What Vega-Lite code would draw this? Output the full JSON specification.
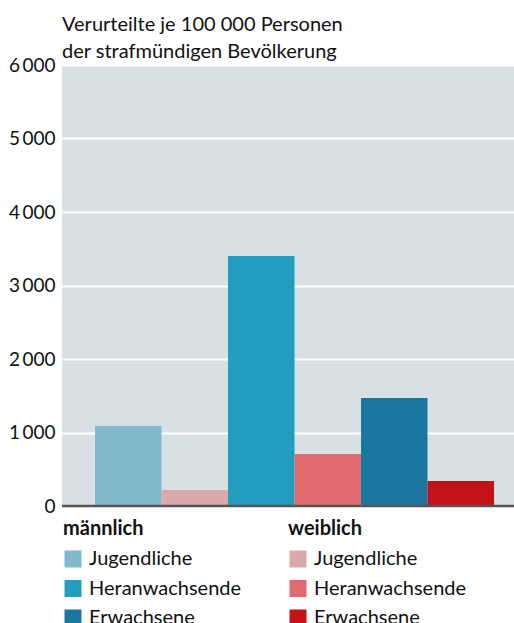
{
  "$schema": "https://vega.github.io/schema/vega-lite/v6.json",
  "width": 452,
  "height": 441,
  "autosize": {"type": "none"},
  "padding": {"left": 62, "top": 65, "right": 0, "bottom": 117},
  "background": "white",
  "config": {
    "view": {"fill": "#d8e0e3", "stroke": null},
    "font": "Lato",
    "legend": {"titleFont": "Lato", "labelFont": "Lato"}
  },
  "title": {
    "text": ["Verurteilte je 100 000 Personen", "der strafmündigen Bevölkerung"],
    "anchor": "start",
    "frame": "group",
    "fontSize": 20,
    "fontWeight": "normal",
    "lineHeight": 27,
    "offset": -6,
    "color": "#111111"
  },
  "data": {
    "values": [
      {"id": "m_J", "sex": "männlich", "group": "Jugendliche", "value": 1088},
      {"id": "w_J", "sex": "weiblich", "group": "Jugendliche", "value": 218},
      {"id": "m_H", "sex": "männlich", "group": "Heranwachsende", "value": 3400},
      {"id": "w_H", "sex": "weiblich", "group": "Heranwachsende", "value": 708},
      {"id": "m_E", "sex": "männlich", "group": "Erwachsene", "value": 1468},
      {"id": "w_E", "sex": "weiblich", "group": "Erwachsene", "value": 340}
    ]
  },
  "encoding": {
    "x": {
      "field": "id",
      "type": "nominal",
      "sort": ["m_J", "w_J", "m_H", "w_H", "m_E", "w_E"],
      "axis": null,
      "scale": {"paddingInner": 0, "paddingOuter": 0.3985, "align": 0.623}
    },
    "y": {
      "field": "value",
      "type": "quantitative",
      "scale": {"domain": [0, 6000], "nice": false},
      "axis": {
        "title": null,
        "values": [0, 1000, 2000, 3000, 4000, 5000, 6000],
        "labelExpr": "replace(format(datum.value, ','), ',', '\u2009')",
        "domain": false,
        "ticks": false,
        "labelPadding": 7,
        "labelFontSize": 19,
        "labelColor": "#111111",
        "labelFont": "Lato",
        "grid": true,
        "gridColor": "white",
        "gridWidth": 2,
        "gridOpacity": 1
      }
    }
  },
  "layer": [
    {
      "transform": [{"filter": "datum.sex === 'männlich'"}],
      "mark": {"type": "bar"},
      "encoding": {
        "fill": {
          "field": "group",
          "type": "nominal",
          "sort": ["Jugendliche", "Heranwachsende", "Erwachsene"],
          "scale": {"domain": ["Jugendliche", "Heranwachsende", "Erwachsene"], "range": ["#80b9cc", "#229cbf", "#1b77a0"]},
          "legend": {
            "title": "männlich",
            "orient": "none",
            "legendX": 1,
            "legendY": 454,
            "titleFontSize": 20,
            "titleFontWeight": "bold",
            "titleColor": "#111111",
            "titlePadding": 10,
            "labelFontSize": 20,
            "labelColor": "#111111",
            "labelOffset": 6,
            "symbolType": "square",
            "symbolSize": 289,
            "symbolStrokeWidth": 0,
            "rowPadding": 9.5
          }
        }
      }
    },
    {
      "transform": [{"filter": "datum.sex === 'weiblich'"}],
      "mark": {"type": "bar"},
      "encoding": {
        "fill": {
          "field": "group",
          "type": "nominal",
          "sort": ["Jugendliche", "Heranwachsende", "Erwachsene"],
          "scale": {"domain": ["Jugendliche", "Heranwachsende", "Erwachsene"], "range": ["#dba8ab", "#e06a70", "#c41317"]},
          "legend": {
            "title": "weiblich",
            "orient": "none",
            "legendX": 226,
            "legendY": 454,
            "titleFontSize": 20,
            "titleFontWeight": "bold",
            "titleColor": "#111111",
            "titlePadding": 10,
            "labelFontSize": 20,
            "labelColor": "#111111",
            "labelOffset": 6,
            "symbolType": "square",
            "symbolSize": 289,
            "symbolStrokeWidth": 0,
            "rowPadding": 9.5
          }
        }
      }
    },
    {
      "data": {"values": [{"base": 0}]},
      "mark": {"type": "rule", "color": "#555555", "strokeWidth": 2.5},
      "encoding": {"y": {"field": "base", "type": "quantitative"}, "x": null}
    }
  ],
  "resolve": {"scale": {"fill": "independent"}, "legend": {"fill": "independent"}}
}
